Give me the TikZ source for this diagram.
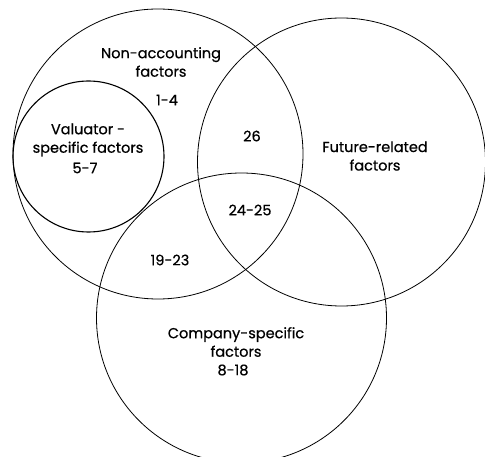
\documentclass[tikz,border=0pt]{standalone}
\usepackage{fontspec}
\setmainfont{Poppins}[FakeBold=0.6]
\begin{document}
\begin{tikzpicture}[x=1pt,y=-1pt,
  setcircle/.style={draw=black,line width=0.8pt},
  lbl/.style={font=\fontsize{14.5}{18.5}\selectfont,align=center,inner sep=0pt}]
\useasboundingbox (0,0) rectangle (485,457);
\begin{scope}
\clip (0,0) rectangle (485,457);
\node[setcircle,circle,minimum size=290pt,inner sep=0pt] (nonacc) at (158,154) {};
\node[setcircle,circle,minimum size=288pt,inner sep=0pt] (future) at (341.5,162) {};
\node[setcircle,circle,minimum size=290pt,inner sep=0pt] (company) at (241.5,318) {};
\node[draw=black,line width=1.1pt,circle,minimum size=151pt,inner sep=0pt] (valuator) at (88.5,156.5) {};
\end{scope}
\node[lbl] (tnonacc) at (161,62) {Non-accounting\\factors};
\node[lbl] (t14) at (167,100) {1-4};
\node[lbl] (tval) at (88,140) {Valuator -\\specific factors};
\node[lbl] (t57) at (85,168) {5-7};
\node[lbl] (t26) at (252,136) {26};
\node[lbl] (tfut) at (375,156) {Future-related\\factors};
\node[lbl] (t2425) at (250,210) {24-25};
\node[lbl] (t1923) at (170,260) {19-23};
\node[lbl] (tcomp) at (236,342) {Company-specific\\factors};
\node[lbl] (t818) at (233,370) {8-18};
\end{tikzpicture}
\end{document}
